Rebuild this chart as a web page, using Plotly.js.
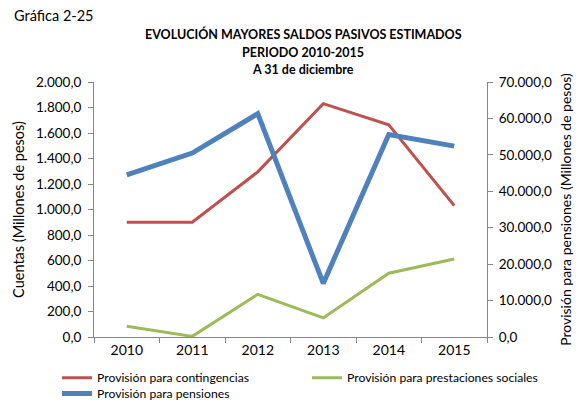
<!DOCTYPE html>
<html><head><meta charset="utf-8">
<script src="https://cdn.plot.ly/plotly-3.0.1.min.js"></script>
<style>html,body{margin:0;padding:0;background:#fff}#c{width:579px;height:400px}</style>
</head><body><div id="c"></div>
<script>
const years = ['2010','2011','2012','2013','2014','2015'];
const contingencias = [900, 900, 1295, 1830, 1665, 1030];
const prestaciones = [85, 5, 335, 150, 500, 612];
const pensiones = [44500, 50500, 61300, 14700, 55600, 52400];
const names = ['Provisión para contingencias','Provisión para prestaciones sociales','Provisión para pensiones'];
const titleLines = ['EVOLUCIÓN MAYORES SALDOS PASIVOS ESTIMADOS','PERIODO 2010-2015','A 31 de diciembre'];

const F = 'Lato, Carlito, "Open Sans", sans-serif';
const data = [
  {x: years, y: contingencias, name: names[0], type:'scatter', mode:'lines', legend:'legend', line:{color:'#C0504D', width:3}},
  {x: years, y: prestaciones, name: names[1], type:'scatter', mode:'lines', legend:'legend2', line:{color:'#9BBB59', width:3}},
  {x: years, y: pensiones, name: names[2], type:'scatter', mode:'lines', yaxis:'y2', legend:'legend3', line:{color:'#4F81BD', width:5}}
];
const titleShifts = [48, 30, 13];
const annotations = [
  {text:'Gráfica 2-25', xref:'paper', yref:'paper', x:(12-94)/393, y:1.0, xanchor:'left', yanchor:'middle', yshift:67, showarrow:false, font:{size:14.5}}
];
titleLines.forEach((t,i)=>annotations.push({text:'<b>'+t+'</b>', xref:'paper', yref:'paper', x:(303-94)/393, y:1.0, xanchor:'center', yanchor:'middle', yshift:titleShifts[i], showarrow:false, font:{size:12.5}}));

const legBase = {orientation:'h', xanchor:'left', yanchor:'middle', itemwidth:30, font:{size:12.2}, bgcolor:'rgba(0,0,0,0)'};
const layout = {
  width:579, height:400,
  margin:{l:94, r:92, t:82, b:63, autoexpand:false},
  paper_bgcolor:'#fff', plot_bgcolor:'#fff',
  font:{family:F, size:13.5, color:'#000'},
  separators:',.',
  showlegend:true,
  legend:Object.assign({}, legBase, {x:(57-94)/393, y:-(377.7-337)/255}),
  legend2:Object.assign({}, legBase, {x:(307-94)/393, y:-(377.7-337)/255}),
  legend3:Object.assign({}, legBase, {x:(57-94)/393, y:-(393.5-337)/255}),
  xaxis:{type:'category', range:[-0.5,5.5], showline:true, linecolor:'#868686', linewidth:1, ticks:'outside', tickson:'boundaries', ticklen:5, tickcolor:'#868686', showgrid:false, zeroline:false, tickfont:{size:14}},
  yaxis:{range:[0,2000], dtick:200, tickformat:',.1f', showline:true, linecolor:'#868686', ticks:'outside', ticklen:5, tickcolor:'#868686', showgrid:false, zeroline:false, tickfont:{size:13.5}, ticklabelstandoff:4,
    title:{text:'Cuentas (Millones de pesos)', font:{size:14.5}, standoff:7}},
  yaxis2:{overlaying:'y', side:'right', range:[0,70000], dtick:10000, tickformat:',.1f', showline:true, linecolor:'#868686', ticks:'outside', ticklen:5, tickcolor:'#868686', showgrid:false, zeroline:false, tickfont:{size:13.5}, ticklabelstandoff:3,
    title:{text:'Provisión para pensiones (Millones de pesos)', font:{size:14}, standoff:10}},
  annotations: annotations
};
Plotly.newPlot('c', data, layout, {displayModeBar:false, staticPlot:true});
</script></body></html>
